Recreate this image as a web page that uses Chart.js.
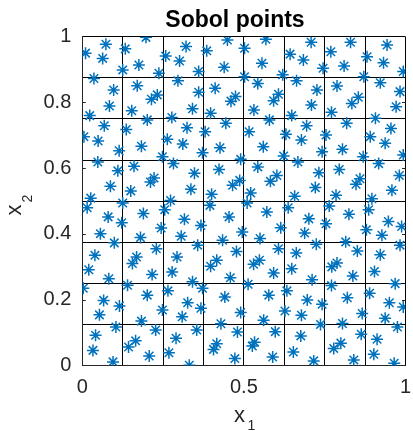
<!DOCTYPE html>
<html>
<head>
<meta charset="utf-8">
<script src="https://cdn.jsdelivr.net/npm/chart.js@4.4.1/dist/chart.umd.min.js"></script>
<style>
  body { margin: 0; background: #fff; }
  canvas { display: block; }
</style>
</head>
<body>
<canvas id="sobol" width="413" height="431"></canvas>
<script>
// points, column by column of the grid
let x1 = [
  0.197,0.073,0.010,0.133,0.063,0.321,0.258,0.301,0.175,0.125,0.237,0.360,0.036,0.296,0.097,0.170,0.360,0.232,0.214,0.084,0.341,0.153,0.023,0.277,0.201,0.068,0.136,0.324,0.005,0.049,0.263,0.311,0.183,0.114,0.372,0.248,
  0.385,0.449,0.568,0.502,0.708,0.643,0.684,0.556,0.439,0.502,0.620,0.745,0.543,0.663,0.411,0.726,0.474,0.460,0.607,0.592,0.709,0.531,0.397,0.648,0.579,0.444,0.380,0.516,0.694,0.630,0.678,0.426,0.560,0.742,0.623,0.490,
  0.769,0.830,0.943,0.881,0.810,0.932,0.871,0.993,0.922,0.788,0.983,0.854,0.834,0.971,0.771,0.818,0.907,0.754,0.955,0.891,0.937,0.805,0.869,0.993,
  0.048,0.282,0.160,0.110,0.347,0.222,0.211,0.087,0.336,0.150,0.026,0.273,0.015,0.125,0.255,0.189,0.080,0.316,0.122,0.367,0.244,0.056,0.306,0.180,0.099,0.357,0.229,0.039,0.168,0.293,0.155,0.020,0.278,0.216,0.082,0.341,
  0.667,0.423,0.543,0.732,0.602,0.487,0.582,0.465,0.721,0.400,0.521,0.657,0.395,0.510,0.637,0.454,0.571,0.701,0.614,0.495,0.688,0.434,0.550,0.724,0.607,0.477,0.662,0.416,0.548,0.530,0.397,0.648,0.592,0.458,0.711,
  0.917,0.795,0.981,0.859,0.847,0.958,0.785,0.896,0.764,0.886,0.825,0.754,0.947,0.988,0.879,0.927,0.815,0.983,0.851,0.922,0.788,0.772,0.904,0.837,
  0.003,0.140,0.066,0.201,0.265,0.372,0.115,0.326,0.367,0.053,0.248,0.183,0.309,0.104,0.227,0.354,0.041,0.165,0.290,0.143,0.033,0.268,0.207,0.095,0.331,
  0.513,0.633,0.441,0.577,0.696,0.742,0.490,0.627,0.561,0.678,0.429,0.737,0.480,0.597,0.676,0.416,0.533,0.406,0.526,0.653,0.472,0.589,0.716,
  0.771,0.968,0.889,0.820,0.950,0.993,0.866,0.937,0.805,0.975,0.863,0.912,0.800,0.778,0.902,0.840,0.965
];
let x2 = [
  0.998,0.977,0.950,0.963,0.934,0.970,0.941,0.926,0.914,0.899,0.889,0.894,0.873,0.866,0.838,0.851,0.831,0.823,0.810,0.789,0.781,0.775,0.760,0.754,0.747,0.729,0.718,0.723,0.696,0.683,0.688,0.674,0.667,0.653,0.647,0.635,
  0.957,0.990,0.992,0.965,0.983,0.947,0.929,0.919,0.907,0.878,0.884,0.904,0.858,0.866,0.843,0.838,0.818,0.804,0.825,0.805,0.792,0.777,0.767,0.760,0.747,0.737,0.711,0.711,0.729,0.703,0.686,0.662,0.665,0.650,0.637,0.627,
  0.954,0.983,0.975,0.939,0.911,0.921,0.878,0.894,0.860,0.850,0.833,0.816,0.797,0.787,0.770,0.737,0.752,0.701,0.721,0.696,0.676,0.658,0.635,0.640,
  0.619,0.614,0.606,0.592,0.585,0.570,0.558,0.545,0.536,0.531,0.509,0.502,0.480,0.494,0.474,0.462,0.452,0.445,0.434,0.426,0.418,0.401,0.393,0.389,0.373,0.366,0.355,0.335,0.330,0.330,0.310,0.291,0.284,0.277,0.264,0.255,
  0.619,0.596,0.604,0.586,0.578,0.563,0.560,0.548,0.541,0.521,0.525,0.515,0.487,0.494,0.480,0.452,0.467,0.446,0.419,0.406,0.403,0.381,0.386,0.369,0.355,0.347,0.342,0.320,0.320,0.308,0.302,0.294,0.281,0.267,0.261,
  0.614,0.596,0.578,0.568,0.551,0.533,0.518,0.507,0.485,0.474,0.460,0.431,0.438,0.423,0.413,0.396,0.376,0.366,0.348,0.337,0.312,0.300,0.286,0.272,
  0.235,0.244,0.198,0.214,0.227,0.235,0.181,0.191,0.174,0.154,0.169,0.135,0.148,0.117,0.108,0.108,0.092,0.075,0.083,0.056,0.046,0.039,0.029,0.011,0.001,
  0.247,0.227,0.208,0.214,0.199,0.186,0.161,0.166,0.138,0.153,0.127,0.125,0.102,0.103,0.090,0.066,0.071,0.049,0.059,0.041,0.021,0.026,0.014,
  0.243,0.249,0.220,0.206,0.191,0.178,0.158,0.144,0.128,0.117,0.095,0.080,0.068,0.052,0.034,0.017,0.007
];

// grid every 1/8, labels from matlab defaults
let gridSteps = [0, 0.125, 0.25, 0.375, 0.5, 0.625, 0.75, 0.875, 1];
let xTickLabels = [0, 0.5, 1];
let yTickLabels = [0, 0.2, 0.4, 0.6, 0.8, 1];
let titleText = 'Sobol points';

let points = [];
for (let i = 0; i < x1.length; i++) {
  points.push({ x: x1[i], y: x2[i] });
}

const FONT = '"Liberation Sans", Arial, Helvetica, sans-serif';
const AXCOL = '#262626';

function isOn(list, v) {
  return list.some(t => Math.abs(t - v) < 1e-6);
}

// matlab style title/labels with subscript + small inward ticks
const extras = {
  id: 'extras',
  afterDraw(chart) {
    const ctx = chart.ctx;
    const a = chart.chartArea;
    const ys = chart.scales.y;
    ctx.save();
    ctx.strokeStyle = AXCOL;
    ctx.lineWidth = 1;
    ctx.beginPath();
    yTickLabels.forEach(v => {
      if (isOn(gridSteps, v)) return;
      const py = Math.round(ys.getPixelForValue(v)) + 0.5;
      ctx.moveTo(a.left, py); ctx.lineTo(a.left + 3.5, py);
      ctx.moveTo(a.right, py); ctx.lineTo(a.right - 3.5, py);
    });
    ctx.stroke();

    ctx.fillStyle = '#000';
    ctx.textAlign = 'center';
    ctx.textBaseline = 'alphabetic';
    ctx.font = 'bold 23px ' + FONT;
    ctx.fillText(titleText, 235, 26.7);

    ctx.fillStyle = AXCOL;
    ctx.textAlign = 'left';
    ctx.font = '22px ' + FONT;
    ctx.fillText('x', 234, 421.5);
    ctx.font = '14px ' + FONT;
    ctx.fillText('1', 247.5, 429.5);

    ctx.translate(20.7, 215.5);
    ctx.rotate(-Math.PI / 2);
    ctx.font = '22px ' + FONT;
    ctx.fillText('x', 0, 0);
    ctx.font = '14px ' + FONT;
    ctx.fillText('2', 13, 11);
    ctx.restore();
  }
};

new Chart(document.querySelector('#sobol'), {
  type: 'scatter',
  data: {
    datasets: [{
      data: points,
      pointStyle: 'star',
      pointRadius: 6,
      pointHoverRadius: 6,
      pointBorderWidth: 1.5,
      borderColor: '#0072BD',
      backgroundColor: '#0072BD'
    }]
  },
  plugins: [extras],
  options: {
    responsive: false,
    animation: false,
    devicePixelRatio: 1,
    layout: { padding: { left: 0, right: 2, top: 36.7, bottom: 0 } },
    plugins: {
      legend: { display: false },
      tooltip: { enabled: false },
      title: { display: false }
    },
    scales: {
      x: {
        min: 0, max: 1,
        afterBuildTicks(scale) {
          scale.ticks = gridSteps.map(v => ({ value: v }));
        },
        afterFit(scale) {
          scale.height = 65.5;
          scale.paddingLeft = 0;
          scale.paddingRight = 0;
        },
        ticks: {
          autoSkip: false, maxRotation: 0, padding: 9.5,
          color: AXCOL,
          font: { family: FONT, size: 20 },
          callback: v => isOn(xTickLabels, v) ? String(v) : ''
        },
        grid: { color: '#000', lineWidth: 1, drawTicks: false },
        border: { display: true, color: AXCOL, width: 1 }
      },
      y: {
        min: 0, max: 1,
        afterBuildTicks(scale) {
          let vals = gridSteps.concat(yTickLabels.filter(v => !isOn(gridSteps, v)));
          vals.sort((p, q) => p - q);
          scale.ticks = vals.map(v => ({ value: v }));
        },
        afterFit(scale) {
          scale.width = 82.3;
          scale.paddingTop = 0;
          scale.paddingBottom = 0;
        },
        ticks: {
          autoSkip: false, padding: 11,
          color: AXCOL,
          font: { family: FONT, size: 20 },
          callback: v => isOn(yTickLabels, v) ? String(Math.round(v * 10) / 10) : ''
        },
        grid: {
          color: c => isOn(gridSteps, c.tick.value) ? '#000' : 'rgba(0,0,0,0)',
          lineWidth: 1, drawTicks: false
        },
        border: { display: true, color: AXCOL, width: 1 }
      }
    }
  }
});
</script>
</body>
</html>
